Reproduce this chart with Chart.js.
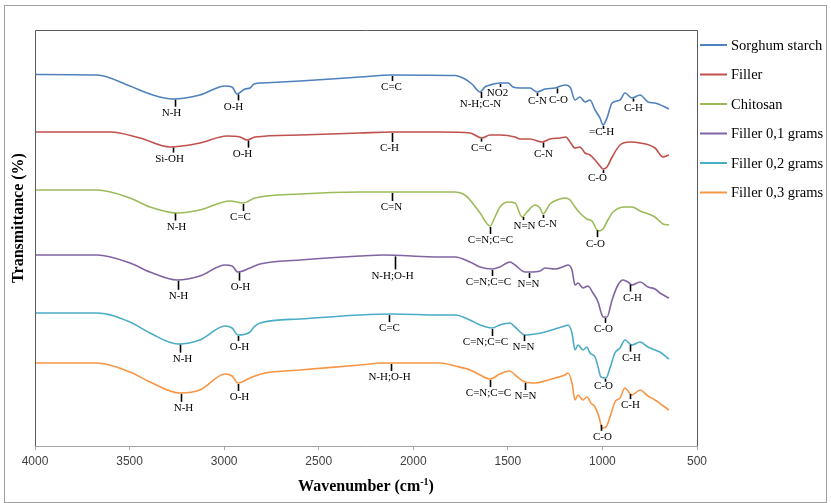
<!DOCTYPE html>
<html>
<head>
<meta charset="utf-8">
<script src="https://cdn.jsdelivr.net/npm/chart.js@4.4.1/dist/chart.umd.min.js"></script>
<style>
  html, body { margin: 0; padding: 0; background: #fff; }
  #wrap { width: 831px; height: 503px; }
</style>
</head>
<body>
<div id="wrap"><canvas id="ftir" width="831" height="503"></canvas></div>
<script>
// FTIR spectra, stacked. Values are relative transmittance (offset per curve).
const seriesNames = ['Sorghum starch', 'Filler', 'Chitosan', 'Filler 0,1 grams', 'Filler 0,2 grams', 'Filler 0,3 grams'];

const wnSorghum = [4000,3672,3498,3392,3270,3128,2995,2958,2932,2890,2863,2842,2795,2599,2282,2113,1779,1727,1690,1647,1621,1594,1542,1499,1473,1436,1383,1346,1304,1251,1198,1171,1145,1119,1092,1066,1039,1013,997,976,949,907,881,844,801,759,722,648];
const tSorghum = [371.5,371,360,352,347,351,360,359,352,357,358,362,363,365,369,371,370.5,367,362,354,359,361,363,363,359,358,358,354,357,358,361,359,346,349,344,346,336,328,321,328,343,346,353,348,351,344,343,337];

const wnFiller = [4000,3603,3445,3286,3128,2985,2916,2879,2837,2599,2282,2113,1859,1700,1637,1594,1542,1462,1436,1383,1320,1277,1224,1193,1171,1145,1119,1092,1066,1039,1013,997,976,949,907,854,801,722,680,648];
const tFiller = [314,314,308,299,303,310,309,306,309,311,313,314,314,313,308,311,311,309,307,307,304,307,308,309,304,298,299,293,291,286,280,277,279,289,301,304,303,298,289,291];

const wnChitosan = [4000,3672,3498,3392,3249,3128,2969,2900,2837,2599,2282,2113,1779,1727,1700,1647,1594,1568,1542,1499,1462,1425,1399,1356,1330,1314,1277,1224,1198,1171,1145,1119,1082,1055,1023,997,971,944,881,844,801,722,680,648];
const tChitosan = [256,256,248,239,233,236,245,243,248,252,254,254,254,251,246,233,220,229,239,244,243,229,234,241,238,232,242,247,248,246,239,233,227,225,215,217,226,234,239,239,235,229,222,221];

const wnFiller01 = [4000,3672,3498,3392,3249,3128,2995,2958,2927,2863,2810,2599,2282,2160,1859,1779,1700,1647,1584,1542,1489,1462,1409,1383,1330,1304,1251,1198,1182,1161,1145,1129,1103,1077,1050,1023,1008,997,976,949,918,891,865,844,801,759,722,696,648];
const tFiller01 = [191,191,183,174,166,170,181,180,174,178,182,186,190,191,189,189,184,179,177,179,184,181,174,174,175,178,177,180,181,176,161,163,158,160,153,144,134,129,129,146,161,166,164,161,164,159,157,153,148];

const wnFiller02 = [4000,3672,3498,3392,3244,3128,2995,2958,2927,2863,2847,2810,2599,2282,2113,1859,1779,1700,1647,1584,1542,1489,1462,1409,1356,1304,1251,1198,1182,1161,1145,1129,1103,1082,1066,1039,1023,1008,981,960,934,907,881,844,801,759,722,696,648];
const tFiller02 = [133,133,124,113,102,106,120,118,111,114,118,123,127,131,132,131,131,126,121,118,121,123,119,111,112,114,117,120,121,113,96,101,96,99,93,89,79,69,68,78,93,98,106,101,104,99,96,94,87];

const wnFiller03 = [4000,3672,3498,3392,3233,3128,2995,2958,2927,2863,2837,2784,2599,2282,2160,1859,1779,1700,1647,1594,1542,1489,1462,1409,1356,1304,1251,1198,1182,1161,1145,1129,1103,1082,1061,1039,1018,1002,981,960,934,907,881,844,801,759,722,685,648];
const tFiller03 = [83,83,74,64,53,56,72,70,63,68,70,73,76,81,83,83,80,76,71,67,72,75,71,64,63,65,68,71,73,63,46,51,46,49,43,39,29,18,19,29,44,48,58,51,56,50,46,41,36];

const xTicks = [4000, 3500, 3000, 2500, 2000, 1500, 1000, 500];

// band assignments: which curve, at which wavenumber, what label
const annSeries = [0,0,0,0,0,0,0,0,0, 1,1,1,1,1,1, 2,2,2,2,2,2,2, 3,3,3,3,3,3,3, 4,4,4,4,4,4,4, 5,5,5,5,5,5,5];
const annWave = [3260,2927,2113,1642,1542,1346,1240,997,838,
  3270,2874,2113,1642,1314,997,
  3260,2900,2113,1594,1420,1314,1029,
  3244,2921,2097,1584,1388,986,854,
  3233,2927,2128,1584,1415,986,854,
  3228,2927,2118,1594,1409,1008,854];
const annText = ['N-H','O-H','C=C','N-H;C-N','NO2','C-N','C-O','=C-H','C-H',
  'Si-OH','O-H','C-H','C=C','C-N','C-O',
  'N-H','C=C','C=N','C=N;C=C','N=N','C-N','C-O',
  'N-H','O-H','N-H;O-H','C=N;C=C','N=N','C-O','C-H',
  'N-H','O-H','C=C','C=N;C=C','N=N','C-O','C-H',
  'N-H','O-H','N-H;O-H','C=N;C=C','N=N','C-O','C-H'];
// label nudges in px (layout only)
const annDx = [-4,-5,-1,-1,-3,0,1,-2,0, -4,-6,-3,0,0,-6, 1,-3,-1,0,1,4,-2, 0,1,-3,-4,-1,-2,2, 2,1,0,-7,-1,-2,1, 2,1,-2,-2,0,1,0];
const annDy = [0,-1,-2,-1,-4,-5,-2,-7,-4, -2,0,2,-4,-2,-5, 0,0,1,0,-4,-4,0, 2,1,6,-1,-2,-2,0, 1,-2,0,0,-1,-6,0, 1,0,0,0,0,-1,-2];

const COLORS = ['#4F81BD', '#C0504D', '#9BBB59', '#8064A2', '#4BACC6', '#F79646'];
const wnAll = [wnSorghum, wnFiller, wnChitosan, wnFiller01, wnFiller02, wnFiller03];
const tAll = [tSorghum, tFiller, tChitosan, tFiller01, tFiller02, tFiller03];

const SERIF = '"Liberation Serif", "Times New Roman", serif';
const SANS = '"Liberation Sans", Arial, sans-serif';

function toPoints(wn, t) {
  return wn.map((w, i) => ({ x: w, y: t[i] }));
}

function valueAt(wn, t, w) {
  for (let i = 0; i < wn.length - 1; i++) {
    if (w <= wn[i] && w >= wn[i + 1]) {
      const f = (wn[i] - w) / (wn[i] - wn[i + 1]);
      return t[i] + f * (t[i + 1] - t[i]);
    }
  }
  return t[t.length - 1];
}

const decorPlugin = {
  id: 'decor',
  beforeDraw(chart) {
    const ctx = chart.ctx;
    ctx.save();
    ctx.fillStyle = '#fff';
    ctx.fillRect(0, 0, chart.width, chart.height);
    ctx.strokeStyle = '#a0a0a0';
    ctx.lineWidth = 1;
    ctx.strokeRect(4.5, 5.5, 822, 497);
    ctx.restore();
  },
  afterDatasetsDraw(chart) {
    const ctx = chart.ctx;
    const xs = chart.scales.x, ys = chart.scales.y;
    ctx.save();
    ctx.strokeStyle = '#000';
    ctx.fillStyle = '#000';
    ctx.lineWidth = 1.6;
    ctx.font = '11px ' + SERIF;
    ctx.textAlign = 'center';
    ctx.textBaseline = 'middle';
    annWave.forEach((w, i) => {
      const s = annSeries[i];
      const px = Math.round(xs.getPixelForValue(w)) + 0.5;
      const py = ys.getPixelForValue(valueAt(wnAll[s], tAll[s], w));
      const dy = annDy[i];
      const end = Math.max(py + 4, py + 8 + dy);
      ctx.beginPath();
      ctx.moveTo(px, py + 1);
      ctx.lineTo(px, end);
      ctx.stroke();
      ctx.fillText(annText[i], px + annDx[i], py + 14.5 + dy);
    });
    ctx.restore();
  },
  afterDraw(chart) {
    const ctx = chart.ctx;
    const a = chart.chartArea;
    ctx.save();
    // plot frame
    ctx.strokeStyle = '#5a5a5a';
    ctx.lineWidth = 1;
    ctx.beginPath();
    ctx.moveTo(a.left + 0.5, a.bottom);
    ctx.lineTo(a.left + 0.5, a.top + 0.5);
    ctx.lineTo(a.right + 0.5, a.top + 0.5);
    ctx.lineTo(a.right + 0.5, a.bottom);
    ctx.stroke();

    // legend
    ctx.font = '14.5px ' + SERIF;
    ctx.textAlign = 'left';
    ctx.textBaseline = 'middle';
    chart.data.datasets.forEach((ds, i) => {
      const y = 45 + i * 29.5;
      ctx.strokeStyle = ds.borderColor;
      ctx.lineWidth = 2;
      ctx.beginPath();
      ctx.moveTo(700, y);
      ctx.lineTo(727, y);
      ctx.stroke();
      ctx.fillStyle = '#000';
      ctx.fillText(ds.label, 731, y + 1);
    });

    // y title
    ctx.save();
    ctx.translate(19, 218);
    ctx.rotate(-Math.PI / 2);
    ctx.font = 'bold 16px ' + SERIF;
    ctx.textAlign = 'center';
    ctx.fillStyle = '#000';
    ctx.fillText('Transmittance (%)', 0, 0);
    ctx.restore();

    // x title with superscript
    const base = 'Wavenumber (cm';
    const sup = '-1';
    const tail = ')';
    ctx.textBaseline = 'alphabetic';
    ctx.fillStyle = '#000';
    ctx.font = 'bold 16px ' + SERIF;
    const wBase = ctx.measureText(base).width;
    const wTail = ctx.measureText(tail).width;
    ctx.font = 'bold 10px ' + SERIF;
    const wSup = ctx.measureText(sup).width;
    const x0 = 366 - (wBase + wSup + wTail) / 2;
    const yb = 491;
    ctx.font = 'bold 16px ' + SERIF;
    ctx.fillText(base, x0, yb);
    ctx.font = 'bold 10px ' + SERIF;
    ctx.fillText(sup, x0 + wBase, yb - 6);
    ctx.font = 'bold 16px ' + SERIF;
    ctx.fillText(tail, x0 + wBase + wSup, yb);
    ctx.restore();
  }
};

new Chart(document.getElementById('ftir'), {
  type: 'line',
  data: {
    datasets: seriesNames.map((name, i) => ({
      label: name,
      data: toPoints(wnAll[i], tAll[i]),
      borderColor: COLORS[i],
      backgroundColor: COLORS[i],
      borderWidth: 1.6,
      pointRadius: 0,
      fill: false,
      cubicInterpolationMode: 'monotone',
    })),
  },
  options: {
    responsive: false,
    animation: false,
    devicePixelRatio: 1,
    layout: { padding: { left: 35, top: 30, right: 134, bottom: 0 } },
    plugins: {
      legend: { display: false },
      tooltip: { enabled: false },
    },
    scales: {
      x: {
        type: 'linear',
        reverse: true,
        min: 500,
        max: 4000,
        afterBuildTicks: (scale) => { scale.ticks = xTicks.map((v) => ({ value: v })); },
        afterFit: (scale) => { scale.height = 57; },
        ticks: {
          color: '#404040',
          font: { family: SANS, size: 12 },
          padding: 4,
          maxRotation: 0,
          autoSkip: false,
          callback: (v) => String(v),
        },
        grid: {
          drawOnChartArea: false,
          drawTicks: true,
          tickLength: 4,
          color: '#a6a6a6',
        },
        border: { color: '#a6a6a6' },
      },
      y: {
        display: false,
        min: 0,
        max: 416,
      },
    },
  },
  plugins: [decorPlugin],
});
</script>
</body>
</html>
